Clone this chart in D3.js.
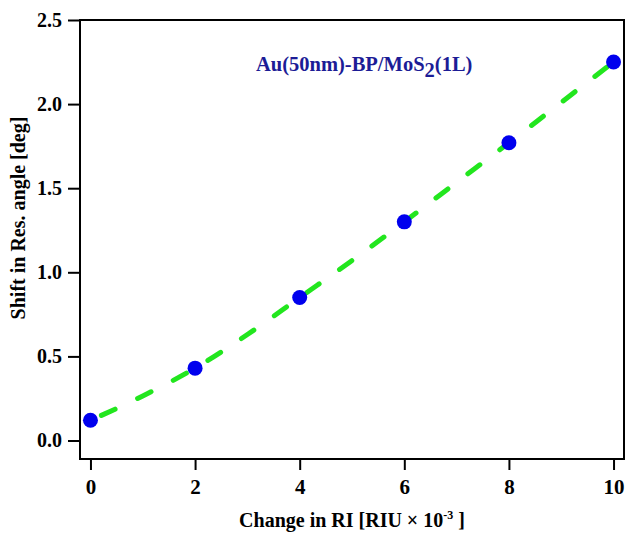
<!DOCTYPE html>
<html>
<head>
<meta charset="utf-8">
<script src="https://cdn.jsdelivr.net/npm/d3@7"></script>
<style>
  html, body { margin: 0; padding: 0; background: #fff; }
  svg { display: block; }
  text { font-family: "Liberation Serif", "Times New Roman", serif; font-weight: bold; fill: #000; }
</style>
</head>
<body>
<svg id="chart" width="625" height="536"></svg>
<script>
// Measured points: shift of resonance angle vs. change in refractive index
const riChange = [0, 2, 4, 6, 8, 10];
const angleShift = [0.12, 0.43, 0.85, 1.30, 1.77, 2.25];

// Fitted trend curve sampled along the RI axis
const fitX = [0, 1, 2, 3, 4, 5, 6, 7, 8, 9, 10];
const fitY = [0.12, 0.265, 0.43, 0.63, 0.85, 1.07, 1.30, 1.535, 1.77, 2.01, 2.25];

const xTicks = [0, 2, 4, 6, 8, 10];
const yTicks = [0.0, 0.5, 1.0, 1.5, 2.0, 2.5];

const svg = d3.select("#chart");
const plotLeft = 80, plotRight = 624, plotTop = 20, plotBottom = 459;

const x = d3.scaleLinear().domain([-0.2, 10.2]).range([plotLeft, plotRight]);
const y = d3.scaleLinear().domain([-0.11, 2.5]).range([plotBottom, plotTop]);

// Frame
svg.append("rect")
  .attr("x", plotLeft).attr("y", plotTop)
  .attr("width", plotRight - plotLeft).attr("height", plotBottom - plotTop)
  .attr("fill", "none").attr("stroke", "#000").attr("stroke-width", 2);

// Bottom axis
const xAxis = svg.append("g")
  .attr("transform", `translate(0,${plotBottom})`)
  .call(d3.axisBottom(x).tickValues(xTicks).tickSize(11).tickPadding(9).tickFormat(d3.format("d")));
xAxis.select(".domain").remove();
xAxis.selectAll(".tick line").attr("stroke", "#000").attr("stroke-width", 2);
xAxis.selectAll(".tick text")
  .attr("font-size", 21).attr("font-family", "Liberation Serif").attr("font-weight", "bold").attr("fill", "#000");

// Left axis
const yAxis = svg.append("g")
  .attr("transform", `translate(${plotLeft},0)`)
  .call(d3.axisLeft(y).tickValues(yTicks).tickSize(12).tickPadding(6).tickFormat(d3.format(".1f")));
yAxis.select(".domain").remove();
yAxis.selectAll(".tick line").attr("stroke", "#000").attr("stroke-width", 2);
yAxis.selectAll(".tick text")
  .attr("font-size", 20).attr("font-family", "Liberation Serif").attr("font-weight", "bold").attr("fill", "#000");

// Fitted dashed curve
const fitData = fitX.map((v, i) => [v, fitY[i]]);
svg.append("path")
  .datum(fitData)
  .attr("fill", "none")
  .attr("stroke", "#22e61e")
  .attr("stroke-width", 5)
  .attr("stroke-linecap", "round")
  .attr("stroke-dasharray", "15,25")
  .attr("stroke-dashoffset", 28)
  .attr("d", d3.line().x(d => x(d[0])).y(d => y(d[1])).curve(d3.curveMonotoneX));

// Data points
svg.append("g").selectAll("circle")
  .data(riChange.map((v, i) => [v, angleShift[i]]))
  .join("circle")
  .attr("cx", d => x(d[0]))
  .attr("cy", d => y(d[1]))
  .attr("r", 7.5)
  .attr("fill", "#0000ee");

// Sample label
const label = svg.append("text")
  .attr("x", 256).attr("y", 71)
  .attr("font-size", 20.5)
  .style("fill", "#1c1c96");
label.append("tspan").text("Au(50nm)-BP/MoS");
label.append("tspan").attr("dy", 6).text("2");
label.append("tspan").attr("dy", -6).text("(1L)");

// Axis titles
const xTitle = svg.append("text")
  .attr("x", 352).attr("y", 527)
  .attr("text-anchor", "middle")
  .attr("font-size", 20);
xTitle.append("tspan").text("Change in RI [RIU \u00d7 10");
xTitle.append("tspan").attr("dy", -8).attr("font-size", 12).text("-3");
xTitle.append("tspan").attr("dy", 8).text(" ]");

svg.append("text")
  .attr("transform", "translate(25,218) rotate(-90)")
  .attr("text-anchor", "middle")
  .attr("font-size", 20)
  .text("Shift in Res. angle [deg]");
</script>
</body>
</html>
